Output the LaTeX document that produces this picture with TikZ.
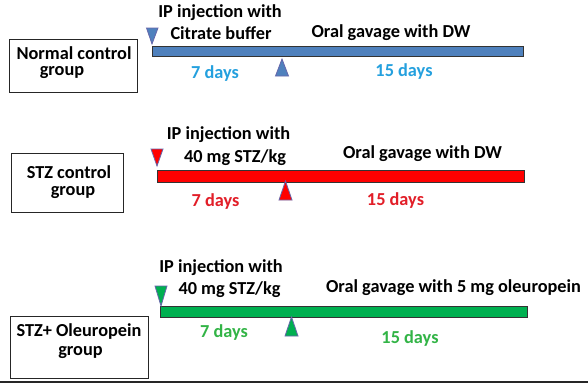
\documentclass[tikz,border=0pt]{standalone}
\usepackage{fontspec}
\setmainfont{Carlito}
\begin{document}
\begin{tikzpicture}[x=1bp,y=-1bp,
  lbl/.style={font=\bfseries\fontsize{18.3bp}{20bp}\selectfont, inner sep=0pt, anchor=center},
  grpbox/.style={draw=black!85, line width=0.9bp, fill=white},
  bar/.style={draw=black!80, line width=1bp},
  tri/.style={draw=black!55!blue!60, line width=0.8bp}]
\definecolor{barblue}{RGB}{79,129,189}
\definecolor{txtblue}{RGB}{36,160,222}
\definecolor{barred}{RGB}{255,0,0}
\definecolor{txtred}{RGB}{226,30,40}
\definecolor{bargreen}{RGB}{0,176,80}
\definecolor{txtgreen}{RGB}{50,180,70}
\useasboundingbox (0,0) rectangle (588,383);
\fill[white] (0,0) rectangle (588,383);

% ---------- Row 1 ----------
\draw[grpbox] (9,39) rectangle (137,92);
\node[lbl] (g1a) at (74,53) {Normal control};
\node[lbl] (g1b) at (62,73) {group};
\draw[bar, fill=barblue] (152,46) rectangle (523,56);
\draw[tri, fill=barblue] (146.5,28) -- (158,28) -- (152,44) -- cycle;
\draw[tri, fill=barblue] (282,59) -- (288.5,76) -- (275.5,76) -- cycle;
\node[lbl] (i1a) at (220,13) {IP injection with};
\node[lbl] (i1b) at (221,33) {Citrate buffer};
\node[lbl] (o1) at (391,33) {Oral gavage with DW};
\node[lbl, text=txtblue] (d1a) at (215,74) {7 days};
\node[lbl, text=txtblue] (d1b) at (404,72) {15 days};

% ---------- Row 2 ----------
\draw[grpbox] (11,153) rectangle (123,212);
\node[lbl] (g2a) at (69,172) {STZ control};
\node[lbl] (g2b) at (73,193) {group};
\draw[bar, fill=barred] (157,170) rectangle (524,182);
\draw[tri, fill=barred] (151,149) -- (163,149) -- (157,166) -- cycle;
\draw[tri, fill=barred] (285.5,181) -- (292,200) -- (279,200) -- cycle;
\node[lbl] (i2a) at (228.5,135) {IP injection with};
\node[lbl] (i2b) at (235,158) {40 mg STZ/kg};
\node[lbl] (o2) at (422.5,154) {Oral gavage with DW};
\node[lbl, text=txtred] (d2a) at (215.5,202) {7 days};
\node[lbl, text=txtred] (d2b) at (395.5,201) {15 days};

% ---------- Row 3 ----------
\draw[grpbox] (10,316) rectangle (148,378);
\node[lbl] (g3a) at (79,332) {STZ+ Oleuropein};
\node[lbl] (g3b) at (80.5,353) {group};
\draw[bar, fill=bargreen] (160,306) rectangle (527,317);
\draw[tri, fill=bargreen] (155,286) -- (167,286) -- (161,306) -- cycle;
\draw[tri, fill=bargreen] (291.5,317) -- (298,336) -- (285,336) -- cycle;
\node[lbl] (i3a) at (221,268) {IP injection with};
\node[lbl] (i3b) at (229.5,290) {40 mg STZ/kg};
\node[lbl] (o3) at (453.5,288) {Oral gavage with 5 mg oleuropein};
\node[lbl, text=txtgreen] (d3a) at (224,333) {7 days};
\node[lbl, text=txtgreen] (d3b) at (410,339) {15 days};

% bottom rule
\draw[line width=2bp, black!85] (0,381.5) -- (588,381.5);
\end{tikzpicture}
\end{document}
